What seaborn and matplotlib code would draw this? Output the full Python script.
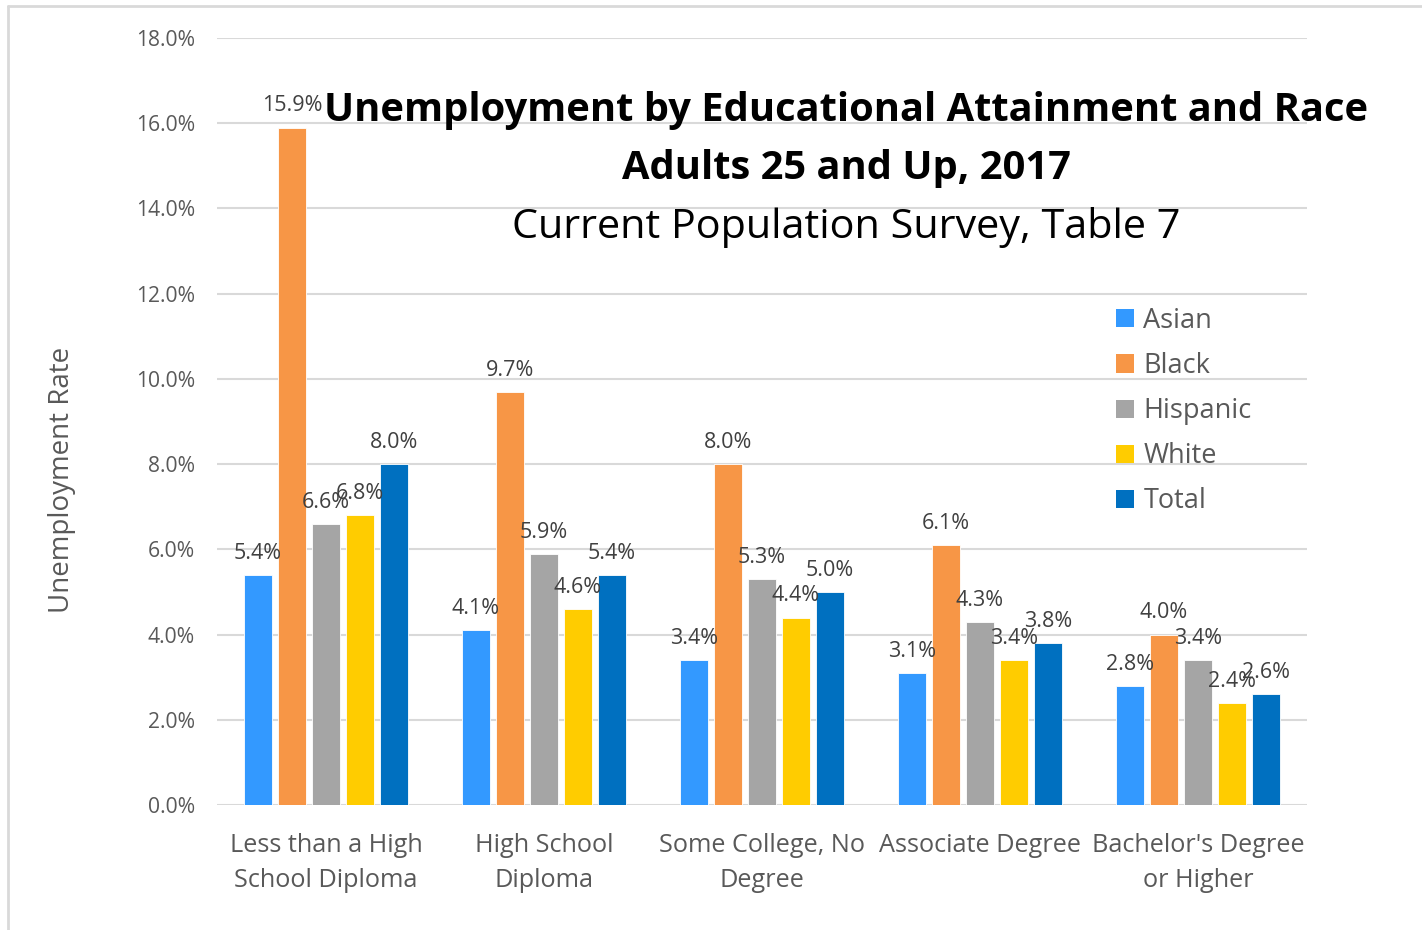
import matplotlib
matplotlib.use("Agg")
import matplotlib.pyplot as plt
import matplotlib.patches as mpatches
from matplotlib.lines import Line2D
import pandas as pd
import seaborn as sns

# Unemployment rate (%) by educational attainment and race, adults 25+, 2017
categories = [
    "Less than a High\nSchool Diploma",
    "High School\nDiploma",
    "Some College, No\nDegree",
    "Associate Degree",
    "Bachelor's Degree\nor Higher",
]
groups = ["Asian", "Black", "Hispanic", "White", "Total"]
asian = [5.4, 4.1, 3.4, 3.1, 2.8]
black = [15.9, 9.7, 8.0, 6.1, 4.0]
hispanic = [6.6, 5.9, 5.3, 4.3, 3.4]
white = [6.8, 4.6, 4.4, 3.4, 2.4]
total = [8.0, 5.4, 5.0, 3.8, 2.6]
y_ticks = [0, 2, 4, 6, 8, 10, 12, 14, 16, 18]

colors = ["#3399FF", "#F79646", "#A5A5A5", "#FFCC00", "#0070C0"]

series = dict(zip(groups, [asian, black, hispanic, white, total]))
df = pd.DataFrame(
    [(cat, g, v) for g in groups for cat, v in zip(categories, series[g])],
    columns=["Education", "Race", "Rate"],
)

sns.set_theme(style="white")
plt.rcParams["font.family"] = ["Open Sans", "DejaVu Sans"]

fig = plt.figure(figsize=(14.22, 9.30), dpi=100)
ax = fig.add_axes([0.1526, 0.1344, 0.7665, 0.8247])

sns.barplot(
    data=df, x="Education", y="Rate", hue="Race",
    order=categories, hue_order=groups, palette=colors,
    width=0.78, gap=0.2, saturation=1, ax=ax, legend=False,
    edgecolor="white", linewidth=0.6,
)

for container in ax.containers:
    ax.bar_label(container, fmt="%.1f%%", padding=8, fontsize=15.5,
                 color="#404040")

ax.set_ylim(0, 18)
ax.set_xlim(-0.5, len(categories) - 0.5)
ax.set_yticks(y_ticks)
ax.set_yticklabels([f"{t:.1f}%" for t in y_ticks], fontsize=15.2, color="#595959")
ax.tick_params(axis="y", length=0, pad=16)
ax.tick_params(axis="x", length=0, pad=20, labelsize=18.2, labelcolor="#595959")
for lbl in ax.get_xticklabels():
    lbl.set_linespacing(1.55)
ax.yaxis.grid(True, color="#D9D9D9", linewidth=1.5)
ax.set_axisbelow(True)
for s in ax.spines.values():
    s.set_visible(False)
ax.set_xlabel("")
ax.set_ylabel("")
fig.text(62 / 1422, 1 - 480 / 930, "Unemployment Rate", rotation=90,
         ha="center", va="center", fontsize=20, color="#595959")

# Legend with square swatches
handles = [mpatches.Patch(facecolor=c, edgecolor="none", label=g)
           for g, c in zip(groups, colors)]
fig.legend(handles=handles, loc="upper left", bbox_to_anchor=(0.7755, 0.6845),
           frameon=False, fontsize=19.5, labelcolor="#595959",
           handlelength=0.65, handleheight=0.65, handletextpad=0.35,
           labelspacing=0.63, borderpad=0)

# Title block
fig.text(0.595, 1 - 110 / 930, "Unemployment by Educational Attainment and Race",
         ha="center", va="center", fontsize=28.7, fontweight="bold", color="black")
fig.text(0.595, 1 - 168 / 930, "Adults 25 and Up, 2017",
         ha="center", va="center", fontsize=28.7, fontweight="bold", color="black")
fig.text(0.595, 1 - 227 / 930, "Current Population Survey, Table 7",
         ha="center", va="center", fontsize=29.8, color="black")

# Chart-area border (left and top edges)
fig.add_artist(Line2D([8 / 1422, 8 / 1422], [0, 1 - 6 / 930],
                      transform=fig.transFigure, color="#D9D9D9", linewidth=2))
fig.add_artist(Line2D([8 / 1422, 1], [1 - 6 / 930, 1 - 6 / 930],
                      transform=fig.transFigure, color="#D9D9D9", linewidth=2))

fig.savefig("out.png", dpi=100, facecolor="white")
